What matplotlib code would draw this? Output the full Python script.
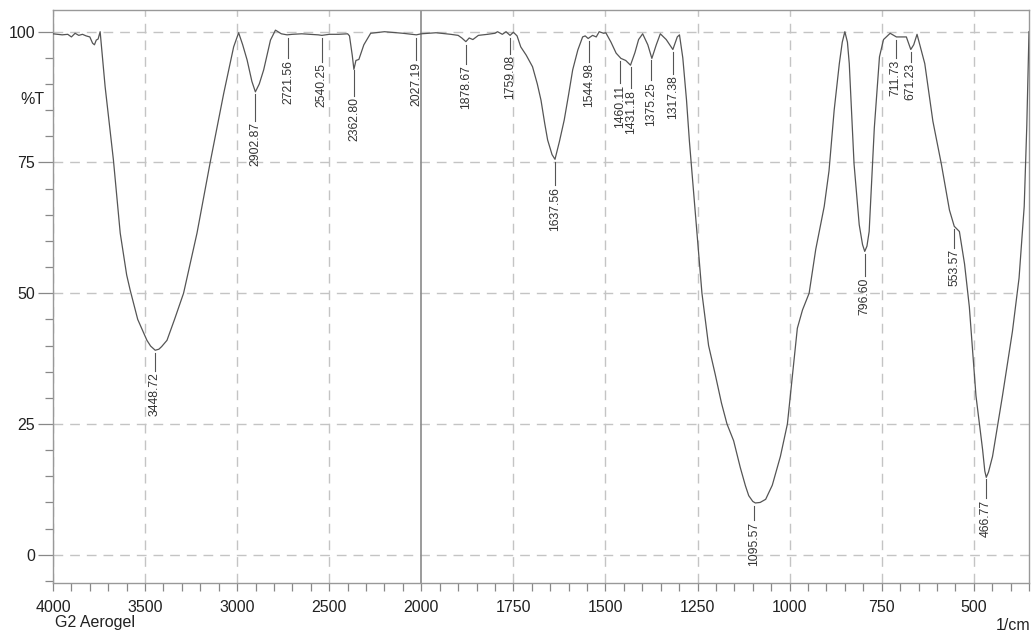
import numpy as np
import matplotlib
matplotlib.use("Agg")
import matplotlib.pyplot as plt
from matplotlib.ticker import FixedLocator

plt.rcParams['font.family'] = ['Liberation Sans', 'DejaVu Sans']

# spectre (1/cm, %T)
wavenumber = [4000, 3950, 3920, 3900, 3880, 3860, 3840, 3820, 3800, 3785, 3775, 3765, 3755, 3744,
              3717, 3672, 3635, 3600, 3581, 3540, 3510, 3490, 3470, 3445, 3425, 3410, 3381, 3340,
              3291, 3218, 3146, 3073, 3019, 2992, 2970, 2946, 2920, 2901, 2880, 2856, 2819, 2792,
              2760, 2729, 2700, 2650, 2600, 2560, 2540, 2500, 2450, 2400, 2390, 2375, 2366, 2355,
              2339, 2312, 2275, 2200, 2100, 2050, 2027, 2000, 1960, 1920, 1900, 1890, 1879, 1870,
              1860, 1845, 1820, 1800, 1793, 1780, 1770, 1759, 1750, 1740, 1730, 1715, 1698, 1685,
              1675, 1665, 1657, 1645, 1637, 1625, 1612, 1600, 1589, 1575, 1562, 1555, 1547, 1535,
              1525, 1517, 1505, 1499, 1485, 1471, 1458, 1445, 1432, 1420, 1410, 1399, 1385, 1374,
              1362, 1351, 1335, 1317, 1305, 1299, 1290, 1280, 1272, 1265, 1250, 1238, 1220, 1202,
              1185, 1170, 1152, 1134, 1120, 1111, 1100, 1093, 1080, 1065, 1047, 1025, 1006, 993,
              979, 965, 947, 929, 906, 893, 879, 865, 857, 850, 843, 838, 825, 811, 802, 796, 790,
              784, 770, 756, 745, 727, 710, 683, 671, 663, 654, 633, 611, 588, 566, 553, 539, 525,
              512, 494, 476, 470, 466, 460, 449, 422, 395, 377, 363, 356, 350]
transmittance = [99.6, 99.4, 99.5, 99.0, 99.7, 99.3, 99.5, 99.2, 99.0, 97.8, 97.5, 98.4, 98.6, 100.0,
                 89.5, 75.5, 61.5, 53.5, 50.6, 45.0, 42.6, 41.0, 39.9, 39.1, 39.3, 39.8, 41.0, 45.0,
                 50.0, 61.5, 75.1, 88.2, 97.1, 99.8, 97.5, 94.6, 90.5, 88.5, 90.0, 92.7, 98.4, 100.3,
                 99.6, 99.4, 99.5, 99.6, 99.5, 99.4, 99.3, 99.5, 99.5, 99.6, 99.2, 95.5, 92.8, 94.5,
                 94.7, 97.5, 99.7, 100.0, 99.7, 99.5, 99.4, 99.6, 99.8, 99.5, 99.3, 98.8, 98.1, 98.8,
                 98.5, 99.3, 99.5, 99.7, 100.0, 99.5, 100.0, 99.3, 99.9, 99.2, 97.1, 95.5, 93.3, 90.0,
                 86.9, 82.5, 79.3, 76.5, 75.6, 79.0, 83.1, 88.0, 92.7, 96.5, 99.0, 99.2, 98.7, 99.3,
                 99.0, 100.0, 99.7, 99.8, 98.0, 95.9, 94.9, 94.5, 93.6, 96.0, 98.5, 99.6, 97.5, 94.9,
                 97.5, 99.6, 98.5, 96.6, 99.0, 99.4, 95.0, 87.0, 79.0, 73.0, 60.0, 50.0, 40.0, 34.5,
                 29.0, 25.0, 21.8, 16.7, 13.2, 11.3, 10.2, 9.9, 10.0, 10.6, 13.3, 18.8, 25.0, 33.8,
                 43.3, 46.8, 50.0, 58.4, 66.6, 73.4, 85.0, 93.9, 98.0, 100.0, 98.0, 93.9, 74.7, 63.1,
                 59.3, 58.0, 59.0, 61.8, 81.6, 95.2, 98.5, 99.7, 99.0, 99.0, 96.6, 97.5, 99.5, 93.9,
                 82.9, 74.7, 65.9, 62.8, 61.8, 55.6, 47.4, 30.4, 20.1, 16.0, 14.8, 15.8, 18.8, 30.4,
                 42.7, 52.9, 66.6, 82.0, 100.0]

# pics annotés
peak_labels = ['3448.72', '2902.87', '2721.56', '2540.25', '2362.80', '2027.19', '1878.67', '1759.08',
               '1637.56', '1544.98', '1460.11', '1431.18', '1375.25', '1317.38', '1095.57', '796.60',
               '711.73', '671.23', '553.57', '466.77']
# haut du texte (en %T)
label_top = [34.9, 82.7, 94.6, 94.0, 87.5, 94.2, 93.6, 95.5, 70.3, 94.0, 89.8, 88.9, 90.4, 91.7,
             6.25, 52.9, 94.6, 94.0, 58.4, 10.5]

x_major = [4000, 3500, 3000, 2500, 2000, 1750, 1500, 1250, 1000, 750, 500]
x_minor = [w for w in range(3900, 2000, -100) if w % 500] + [w for w in range(1950, 349, -50) if w % 250]


def fwd(w):
    w = np.asarray(w, dtype=float)
    return np.where(w >= 2000, w, 2 * w - 2000)


def inv(u):
    u = np.asarray(u, dtype=float)
    return np.where(u >= 2000, u, (u + 2000) / 2)


fig = plt.figure(figsize=(10.34, 6.32), dpi=100)
ax = fig.add_axes([53 / 1034, 49 / 632, 976 / 1034, 573 / 632])
ax.set_xscale('function', functions=(fwd, inv))
ax.set_xlim(4000, 350)
ax.set_ylim(-5.4, 104.15)

ax.xaxis.set_major_locator(FixedLocator(x_major))
ax.xaxis.set_minor_locator(FixedLocator(x_minor))
ax.set_xticklabels([str(v) for v in x_major])
ax.yaxis.set_major_locator(FixedLocator([0, 25, 50, 75, 100]))
ax.yaxis.set_minor_locator(FixedLocator(list(range(-5, 105, 5))))

for v in [0, 25, 50, 75, 100]:
    ax.axhline(v, color='#c4c4c4', lw=1, ls=(0, (7, 5)), zorder=1)
for v in x_major:
    if v == 2000:
        ax.axvline(v, color='#8a8a8a', lw=1.2, zorder=1)
    else:
        ax.axvline(v, color='#c4c4c4', lw=1, ls=(0, (7, 5)), zorder=1)

ax.plot(wavenumber, transmittance, color='#555555', lw=0.9, zorder=3)

# étiquettes des pics
wn_asc = np.array(wavenumber[::-1], dtype=float)
tr_asc = np.array(transmittance[::-1], dtype=float)
for lab, top in zip(peak_labels, label_top):
    w = float(lab)
    y0 = np.interp(w, wn_asc, tr_asc) - 0.6
    ax.plot([w, w], [y0, top + 0.3], color='#555555', lw=0.8, zorder=3)
    ax.text(w, top, lab, rotation=90, ha='center', va='top', fontsize=8.8, color='#333333', zorder=4)

for s in ax.spines.values():
    s.set_color('#999999')
    s.set_linewidth(1)

ax.tick_params(axis='x', which='both', direction='out', length=6, width=0.9, color='#888888',
               labelsize=11.5, labelcolor='#222222', pad=6)
ax.tick_params(axis='y', which='major', direction='out', length=11, width=0.9, color='#888888',
               labelsize=11.5, labelcolor='#222222', pad=2)
ax.tick_params(axis='y', which='minor', direction='out', length=6, width=0.9, color='#888888')

fig.text(20 / 1034, 1 - 99 / 632, '%T', fontsize=11.5, color='#222222', va='center', ha='left')
fig.text(55 / 1034, 1 - 623 / 632, 'G2 Aerogel', fontsize=11.5, color='#222222', va='center', ha='left')
fig.text(1030 / 1034, 1 - 625 / 632, '1/cm', fontsize=11.5, color='#222222', va='center', ha='right')

fig.savefig('out.png', dpi=100)
